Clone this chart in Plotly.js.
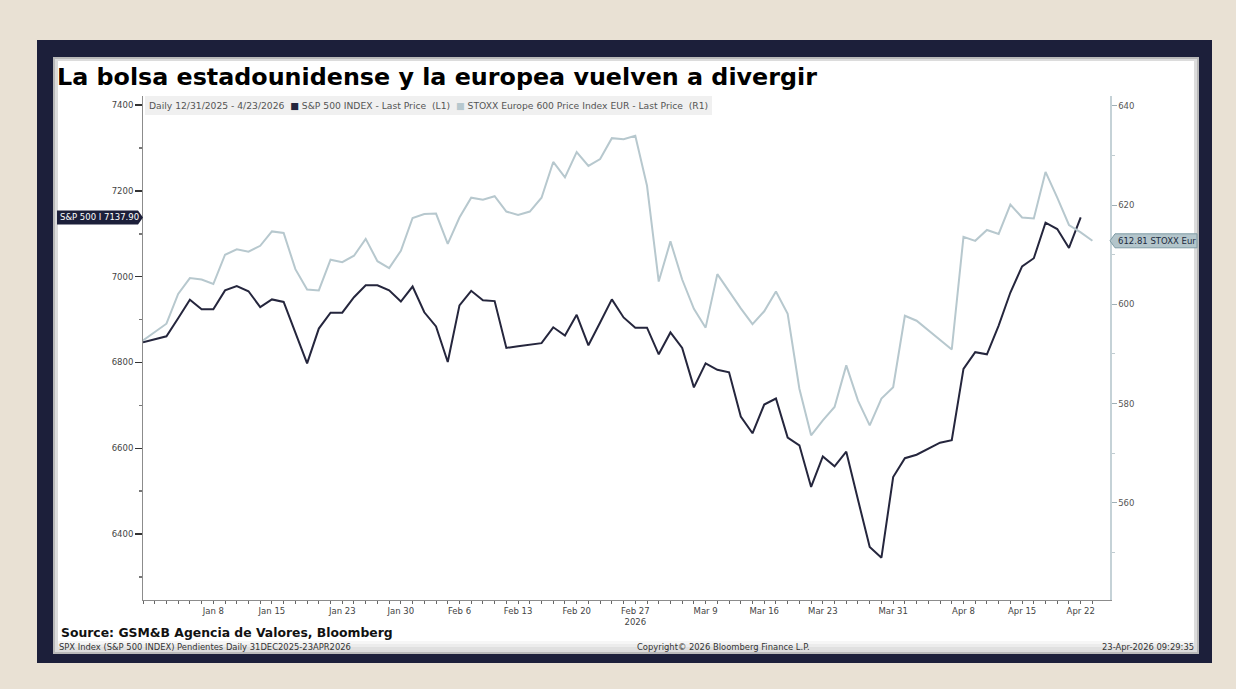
<!DOCTYPE html>
<html>
<head>
<meta charset="utf-8">
<script src="https://cdn.plot.ly/plotly-3.0.1.min.js"></script>
<style>html,body{margin:0;padding:0;background:#e9e1d4;}#chart{width:1236px;height:689px;}</style>
</head>
<body>
<div id="chart"></div>
<script>
// ---- data ----
const dates = [
  '2025-12-31','2026-01-01','2026-01-02',
  '2026-01-05','2026-01-06','2026-01-07','2026-01-08','2026-01-09',
  '2026-01-12','2026-01-13','2026-01-14','2026-01-15','2026-01-16',
  '2026-01-19','2026-01-20','2026-01-21','2026-01-22','2026-01-23',
  '2026-01-26','2026-01-27','2026-01-28','2026-01-29','2026-01-30',
  '2026-02-02','2026-02-03','2026-02-04','2026-02-05','2026-02-06',
  '2026-02-09','2026-02-10','2026-02-11','2026-02-12','2026-02-13',
  '2026-02-16','2026-02-17','2026-02-18','2026-02-19','2026-02-20',
  '2026-02-23','2026-02-24','2026-02-25','2026-02-26','2026-02-27',
  '2026-03-02','2026-03-03','2026-03-04','2026-03-05','2026-03-06',
  '2026-03-09','2026-03-10','2026-03-11','2026-03-12','2026-03-13',
  '2026-03-16','2026-03-17','2026-03-18','2026-03-19','2026-03-20',
  '2026-03-23','2026-03-24','2026-03-25','2026-03-26','2026-03-27',
  '2026-03-30','2026-03-31','2026-04-01','2026-04-02','2026-04-03',
  '2026-04-06','2026-04-07','2026-04-08','2026-04-09','2026-04-10',
  '2026-04-13','2026-04-14','2026-04-15','2026-04-16','2026-04-17',
  '2026-04-20','2026-04-21','2026-04-22','2026-04-23'
];

const spx = [
  6847, null, 6861,
  6903, 6946, 6924, 6924, 6968,
  6978, 6966, 6929, 6947, 6941,
  null, 6798, 6879, 6916, 6916,
  6952, 6980, 6980, 6968, 6942,
  6977, 6917, 6884, 6801, 6933,
  6967, 6945, 6943, 6834, 6838,
  null, 6845, 6882, 6863, 6911,
  6840, 6893, 6947, 6905, 6881,
  6881, 6819, 6870, 6834, 6742,
  6798, 6783, 6777, 6674, 6635,
  6702, 6716, 6625, 6607, 6510,
  6581, 6558, 6592, 6480, 6370,
  6345, 6533, 6577, 6585, null,
  6613, 6619, 6785, 6824, 6819,
  6886, 6963, 7024, 7043, 7126,
  7111, 7067, 7137.90, null
];

const stoxx = [
  592.7, null, 596.1,
  602.1, 605.3, 605.0, 604.1, 610.0,
  611.1, 610.6, 611.8, 614.7, 614.4,
  607.1, 603.0, 602.8, 609.0, 608.5,
  609.8, 613.2, 608.7, 607.3, 610.8,
  617.4, 618.2, 618.3, 612.2, 617.5,
  621.5, 621.1, 621.8, 618.7, 618.0,
  618.7, 621.5, 628.7, 625.6, 630.7,
  627.9, 629.3, 633.5, 633.3, 634.0,
  623.9, 604.6, 612.7, 605.0, 599.1,
  595.3, 606.1, 602.6, 599.2, 596.0,
  598.6, 602.6, 598.1, 583.0, 573.6,
  576.6, 579.3, 587.7, 580.6, 575.6,
  581.0, 583.3, 597.7, 596.7, null,
  null, 590.9, 613.6, 612.8, 615.0,
  614.2, 620.1, 617.5, 617.3, 626.7,
  621.5, 616.0, 614.5, 612.81
];

const tickDates  = ['2026-01-08','2026-01-15','2026-01-23','2026-01-30','2026-02-06','2026-02-13','2026-02-20','2026-02-27','2026-03-09','2026-03-16','2026-03-23','2026-03-31','2026-04-08','2026-04-15','2026-04-22'];
const tickLabels = ['Jan 8','Jan 15','Jan 23','Jan 30','Feb 6','Feb 13','Feb 20','Feb 27<br>2026','Mar 9','Mar 16','Mar 23','Mar 31','Apr 8','Apr 15','Apr 22'];

const leftTicks  = [6400, 6600, 6800, 7000, 7200, 7400];
const leftMinor  = [6300, 6500, 6700, 6900, 7100, 7300];
const rightTicks = [560, 580, 600, 620, 640];
const rightMinor = [550, 570, 590, 610, 630];

// ---- styling helpers (pixel -> paper) ----
const L = 143, R = 1110, T = 96, B = 600;
const px = x => (x - L) / (R - L);
const py = y => (B - y) / (B - T);
const navy = '#1c1f3a', spxColor = '#25263d', stoxxColor = '#b7c8ce';
const NB = '\u00A0';

function lastVal(arr){ for (let i = arr.length - 1; i >= 0; i--) if (arr[i] != null) return arr[i]; }
const spLast = lastVal(spx), stLast = lastVal(stoxx);

const ticktext = dates.map(d => { const k = tickDates.indexOf(d); return k >= 0 ? tickLabels[k] : ''; });

const traces = [
  {x: dates, y: stoxx, type: 'scatter', mode: 'lines', yaxis: 'y2', connectgaps: true,
   line: {color: stoxxColor, width: 2}, hoverinfo: 'skip'},
  {x: dates, y: spx, type: 'scatter', mode: 'lines', yaxis: 'y', connectgaps: true,
   line: {color: spxColor, width: 2}, hoverinfo: 'skip'}
];

const rect = (x0, y0, x1, y1, color) => ({type: 'rect', xref: 'paper', yref: 'paper', layer: 'below',
  x0: px(x0), x1: px(x1), y0: py(y1), y1: py(y0), fillcolor: color, line: {width: 0}});

const spH = 7 * (7421 - 6246.5) / (B - T);   // 7px in left-axis units
const stH = 7 * (642 - 540.4) / (B - T);     // 7px in right-axis units

const shapes = [
  rect(37, 40, 1212, 663, navy),
  rect(53, 57, 1199, 654, '#b9b9b9'),
  rect(55, 59, 1197, 652, '#dcdcdc'),
  rect(58, 61, 1194, 641, '#ffffff'),
  rect(58, 641, 1194, 644, '#f6f6f6'),
  rect(58, 644, 1194, 647, '#ececec'),
  rect(58, 647, 1194, 650, '#e0e0e0'),
  rect(145, 96, 712, 115, '#f0f0f0'),
  // S&P last value tag
  {type: 'path', xref: 'paper', yref: 'y', layer: 'above',
   path: `M ${px(57)},${spLast - spH} L ${px(138)},${spLast - spH} L ${px(143)},${spLast} L ${px(138)},${spLast + spH} L ${px(57)},${spLast + spH} Z`,
   fillcolor: navy, line: {width: 0}},
  // STOXX last value tag
  {type: 'path', xref: 'paper', yref: 'y2', layer: 'above',
   path: `M ${px(1110)},${stLast} L ${px(1115)},${stLast - stH} L ${px(1197)},${stLast - stH} L ${px(1197)},${stLast + stH} L ${px(1115)},${stLast + stH} Z`,
   fillcolor: '#b3c5cb', line: {width: 1, color: '#7f9ca5'}}
];

const F = 'DejaVu Sans';
const ann = (x, y, text, size, color, anchor, extra) => Object.assign({xref: 'paper', yref: 'paper',
  x: px(x), y: py(y), text: text, showarrow: false, xanchor: anchor || 'left', yanchor: 'middle',
  font: {family: F, size: size, color: color}}, extra || {});

const annotations = [
  ann(55, 77, '<b>La bolsa estadounidense y la europea vuelven a divergir</b>', 23.8, '#000'),
  ann(147, 105.5, 'Daily 12/31/2025 - 4/23/2026' + NB + NB + '<span style="color:' + spxColor + '">■</span> S&P 500 INDEX - Last Price' + NB + NB + '(L1)' + NB + NB +
      '<span style="color:' + stoxxColor + '">■</span> STOXX Europe 600 Price Index EUR - Last Price' + NB + NB + '(R1)', 9.2, '#555'),
  ann(59, 632, '<b>Source: GSM&B Agencia de Valores, Bloomberg</b>', 12.4, '#111'),
  ann(57, 646.5, 'SPX Index (S&P 500 INDEX) Pendientes Daily 31DEC2025-23APR2026', 8.4, '#333'),
  ann(723, 646.5, 'Copyright© 2026 Bloomberg Finance L.P.', 8.4, '#333', 'center'),
  ann(1196, 646.5, '23-Apr-2026 09:29:35', 8.4, '#333', 'right'),
  {xref: 'paper', yref: 'y', x: px(58), y: spLast, xanchor: 'left', yanchor: 'middle', showarrow: false,
   text: 'S&P 500 I ' + spLast.toFixed(2), font: {family: F, size: 8.5, color: '#ffffff'}},
  {xref: 'paper', yref: 'y2', x: px(1116), y: stLast, xanchor: 'left', yanchor: 'middle', showarrow: false,
   text: stLast.toFixed(2) + ' STOXX Eur', font: {family: F, size: 8.5, color: '#1c2a40'}}
];

const layout = {
  width: 1236, height: 689,
  margin: {l: L, r: 1236 - R, t: T, b: 689 - B, pad: 0},
  paper_bgcolor: '#e9e1d4', plot_bgcolor: 'rgba(0,0,0,0)',
  showlegend: false,
  xaxis: {type: 'category', range: [0, 82.5], showgrid: false, zeroline: false,
    showline: true, linecolor: '#8c8c8c', linewidth: 1,
    tickmode: 'array', tickvals: dates, ticktext: ticktext, ticks: 'outside', ticklen: 3,
    tickcolor: '#666', tickangle: 0, tickfont: {family: F, size: 8.5, color: '#444'}, fixedrange: true},
  yaxis: {range: [6246.5, 7421], showgrid: false, zeroline: false,
    showline: true, linecolor: '#8c8c8c', linewidth: 1,
    tickmode: 'array', tickvals: leftTicks, ticks: 'outside', ticklen: 7, tickwidth: 1.5, tickcolor: '#333',
    minor: {tickmode: 'array', tickvals: leftMinor, ticks: 'outside', ticklen: 3, tickcolor: '#777'},
    tickfont: {family: F, size: 8.5, color: '#444'}, fixedrange: true},
  yaxis2: {overlaying: 'y', side: 'right', range: [540.4, 642], showgrid: false, zeroline: false,
    showline: true, linecolor: '#c5d2d7', linewidth: 1.5,
    tickmode: 'array', tickvals: rightTicks, ticks: 'outside', ticklen: 5, tickcolor: '#9fb0b6',
    minor: {tickmode: 'array', tickvals: rightMinor, ticks: 'outside', ticklen: 3, tickcolor: '#c0ccd0'},
    tickfont: {family: F, size: 8.5, color: '#555'}, fixedrange: true},
  shapes: shapes,
  annotations: annotations
};

Plotly.newPlot('chart', traces, layout, {displayModeBar: false, staticPlot: true});
</script>
</body>
</html>
